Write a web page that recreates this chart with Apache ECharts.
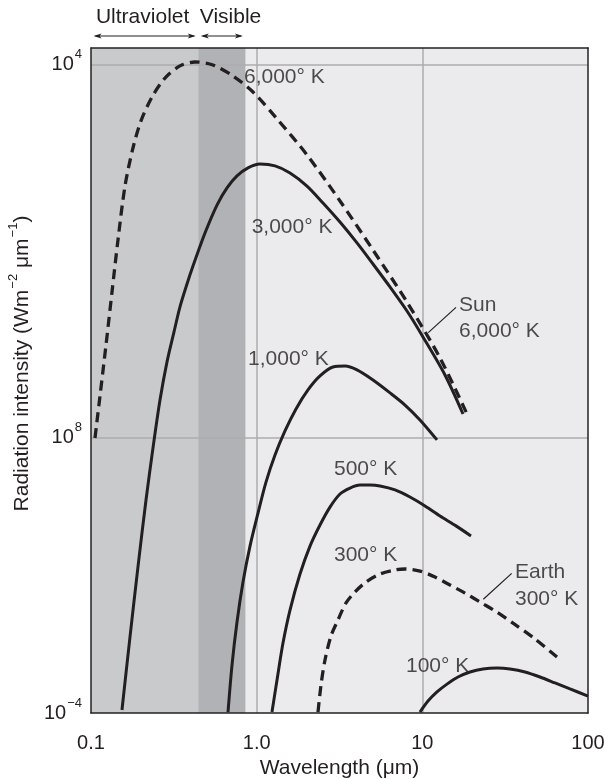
<!DOCTYPE html>
<html>
<head>
<meta charset="utf-8">
<script src="https://cdn.jsdelivr.net/npm/echarts@6/dist/echarts.min.js"></script>
<style>
  html, body { margin: 0; padding: 0; background: #ffffff; }
  #chart { width: 604px; height: 779px; }
</style>
</head>
<body>
<div id="chart"></div>
<script>
// Blackbody emission curves: wavelength (µm) against log10 of radiation intensity.
const wavelengthTicks = [0.1, 1, 10, 100];
const wavelengthTickLabels = ['0.1', '1.0', '10', '100'];

// Intensity axis runs in decades (exponent of ten).
const intensityTickValues = [-4, 8, 24.27];
const intensityTickLabels = [['10', '−4'], ['10', '8'], ['10', '4']];

// Spectral bands (µm)
const ultravioletBand = [0.1, 0.444];
const visibleBand = [0.444, 0.855];

// Curves: [wavelength µm, log10 intensity]
const curve6000K = [[0.1057, 7.99], [0.1133, 9.82], [0.1232, 12.05], [0.1339, 14.36], [0.1455, 16.63],
  [0.1604, 18.98], [0.1792, 20.64], [0.2003, 21.82], [0.2335, 22.86], [0.2797, 23.69], [0.3444, 24.22],
  [0.4243, 24.39], [0.5449, 24.26], [0.7197, 23.78], [0.9503, 23.08], [1.3268, 21.91], [2.0125, 20.34],
  [3.184, 18.33], [5.037, 16.19], [8.08, 13.92], [12.79, 11.48], [18.60, 9.04]];
const curve3000K = [[0.1538, -3.87], [0.1719, -0.69], [0.1921, 2.37], [0.2148, 5.29], [0.2367, 7.56],
  [0.2609, 9.65], [0.2876, 11.31], [0.3170, 12.62], [0.3444, 13.71], [0.3797, 14.71], [0.4127, 15.49],
  [0.4876, 16.93], [0.5761, 18.15], [0.6622, 18.90], [0.7609, 19.42], [0.8864, 19.77], [1.0474, 19.94],
  [1.2904, 19.86], [1.5895, 19.55], [2.0125, 18.98], [2.5141, 18.24], [3.184, 17.41], [4.033, 16.50],
  [5.037, 15.58], [6.379, 14.58], [8.08, 13.53], [10.09, 12.40], [13.70, 10.74], [17.60, 9.04]];
const curve1000K = [[0.6715, -3.96], [0.7098, -1.91], [0.7609, -0.03], [0.8270, 1.71], [0.9115, 3.28],
  [1.0187, 4.72], [1.1384, 6.07], [1.2904, 7.25], [1.4825, 8.30], [1.7275, 9.26], [2.0407, 10.09],
  [2.4116, 10.70], [2.8891, 11.09], [3.4145, 11.13], [4.033, 10.96], [5.037, 10.52], [6.379, 9.96],
  [7.859, 9.43], [9.680, 8.78], [12.26, 7.91]];
const curve500K = [[1.2374, -3.96], [1.3268, -2.56], [1.4418, -0.95], [1.5895, 0.49], [1.8263, 2.06],
  [2.0985, 3.28], [2.4116, 4.20], [2.7711, 4.98], [3.184, 5.55], [3.6593, 5.81], [4.2049, 5.94],
  [4.8316, 5.94], [5.5526, 5.90], [6.8395, 5.73], [8.4243, 5.42], [10.376, 5.03], [12.79, 4.59],
  [15.968, 4.16], [19.666, 3.72]];
const curve300K = [[2.3455, -3.96], [2.4454, -2.78], [2.5851, -1.69], [2.8099, -0.64], [3.0968, 0.06],
  [3.4624, 0.80], [3.9225, 1.28], [4.5703, 1.71], [5.5526, 2.06], [6.8395, 2.24], [7.859, 2.28],
  [9.680, 2.19], [11.924, 1.93], [14.689, 1.58], [18.094, 1.23], [22.289, 0.84], [28.224, 0.40],
  [35.266, -0.08], [47.863, -0.77], [64.99, -1.56]];
const curve100K = [[9.680, -3.96], [10.818, -3.48], [12.26, -3.08], [14.086, -2.74], [16.418, -2.43],
  [19.396, -2.21], [23.236, -2.08], [28.224, -2.04], [33.82, -2.08], [41.66, -2.21], [51.31, -2.43],
  [63.21, -2.69], [77.86, -2.95], [100, -3.26]];

// Curve labels, anchored at [wavelength, log10 intensity] (left edge, vertical middle)
const curveLabels = [
  { text: '6,000° K', at: [0.8386, 23.74] },
  { text: '3,000° K', at: [0.933, 17.17] },
  { text: '1,000° K', at: [0.8867, 11.44] },
  { text: '500° K', at: [2.93, 6.64] },
  { text: '300° K', at: [2.93, 2.86] },
  { text: '100° K', at: [7.967, -1.94] },
  { text: 'Sun', at: [16.65, 13.79] },
  { text: '6,000° K', at: [16.65, 12.63] },
  { text: 'Earth', at: [36.25, 2.15] },
  { text: '300° K', at: [36.25, 0.95] }
];
const leaderLines = [
  [[10.86, 12.59], [15.97, 13.69]],
  [[23.34, 0.96], [34.63, 2.09]]
];

const INK = '#231f20';
const FONT = '"Liberation Sans", Arial, Helvetica, sans-serif';

const chart = echarts.init(document.getElementById('chart'), null, { renderer: 'canvas' });

function curveSeries(name, data, dashed) {
  return {
    name: name,
    type: 'line',
    data: data,
    smooth: 0.3,
    showSymbol: false,
    symbol: 'none',
    z: 3,
    clip: true,
    lineStyle: {
      color: INK,
      width: dashed ? 3.3 : 3,
      type: dashed ? [10, 6] : 'solid',
      cap: 'butt'
    }
  };
}

// tick labels: base number with raised exponent
const tickRich = {
  b: { fontSize: 20, fontFamily: FONT, color: INK },
  s: { fontSize: 13, fontFamily: FONT, color: INK, padding: [0, 0, 20, 1] }
};
// axis title with raised exponents
const titleRich = {
  b: { fontSize: 21, fontFamily: FONT, color: INK },
  s: { fontSize: 13, fontFamily: FONT, color: INK, padding: [0, 0, 18, 1] }
};

const frameLine = { show: true, onZero: false, lineStyle: { color: '#222222', width: 1.5 } };

const option = {
  animation: false,
  backgroundColor: '#ffffff',
  textStyle: { fontFamily: FONT },
  grid: {
    left: 91, top: 48, width: 497, height: 665,
    containLabel: false,
    outerBoundsMode: 'none',
    show: true, backgroundColor: '#ebebed', borderWidth: 0
  },
  xAxis: [{
    type: 'log', logBase: 10, min: 0.1, max: 100, position: 'bottom', z: 10,
    axisLine: frameLine,
    axisTick: { show: false },
    splitLine: { show: false },
    axisLabel: {
      show: true, margin: 20, fontSize: 20, color: INK, fontFamily: FONT,
      showMinLabel: true, showMaxLabel: true, hideOverlap: false,
      formatter: function (v) {
        for (let i = 0; i < wavelengthTicks.length; i++) {
          if (Math.abs(Math.log10(v) - Math.log10(wavelengthTicks[i])) < 1e-6) return wavelengthTickLabels[i];
        }
        return '';
      }
    },
    name: 'Wavelength (μm)',
    nameLocation: 'middle',
    nameGap: 41,
    nameTextStyle: { fontSize: 21, color: INK, fontFamily: FONT }
  }, {
    type: 'log', logBase: 10, min: 0.1, max: 100, position: 'top', z: 10,
    axisLine: frameLine, axisTick: { show: false }, axisLabel: { show: false }, splitLine: { show: false }
  }],
  yAxis: [{
    type: 'value', min: -4, max: 25, position: 'left', z: 10,
    axisLine: frameLine,
    axisTick: { show: false },
    splitLine: { show: false },
    axisLabel: {
      show: true, margin: 9, color: INK,
      customValues: intensityTickValues,
      formatter: function (v) {
        for (let i = 0; i < intensityTickValues.length; i++) {
          if (Math.abs(v - intensityTickValues[i]) < 1e-3) {
            return '{b|' + intensityTickLabels[i][0] + '}{s|' + intensityTickLabels[i][1] + '}';
          }
        }
        return '';
      },
      rich: tickRich
    },
    name: '{b|Radiation intensity (Wm}{s|−2}{b| μm}{s|−1}{b|)}',
    nameLocation: 'middle',
    nameGap: 52,
    nameTextStyle: { rich: titleRich, padding: [0, 0, 0, 34] }
  }, {
    type: 'value', min: -4, max: 25, position: 'right', z: 10,
    axisLine: frameLine, axisTick: { show: false }, axisLabel: { show: false }, splitLine: { show: false }
  }],
  series: [
    {
      // shaded spectral bands and reference grid lines
      name: 'bands',
      type: 'line',
      data: [],
      z: 1,
      silent: true,
      markArea: {
        silent: true,
        z: 0,
        label: { show: false },
        data: [
          [{ xAxis: ultravioletBand[0], itemStyle: { color: '#c9cacc' } }, { xAxis: ultravioletBand[1] }],
          [{ xAxis: visibleBand[0], itemStyle: { color: '#b1b2b5' } }, { xAxis: visibleBand[1] }]
        ]
      },
      markLine: {
        silent: true,
        z: 1,
        symbol: ['none', 'none'],
        label: { show: false },
        lineStyle: { color: '#acacae', width: 1.5, type: 'solid' },
        data: [
          { yAxis: intensityTickValues[1] },
          { yAxis: intensityTickValues[2] },
          { xAxis: wavelengthTicks[1] },
          { xAxis: wavelengthTicks[2] }
        ]
      }
    },
    curveSeries('6,000° K', curve6000K, true),
    curveSeries('3,000° K', curve3000K, false),
    curveSeries('1,000° K', curve1000K, false),
    curveSeries('500° K', curve500K, false),
    curveSeries('300° K', curve300K, true),
    curveSeries('100° K', curve100K, false),
    {
      // curve captions and leader lines
      name: 'labels',
      type: 'scatter',
      z: 6,
      silent: true,
      symbolSize: 0,
      data: curveLabels.map(function (d) { return { value: d.at, name: d.text }; }),
      label: {
        show: true,
        position: 'right',
        distance: 0,
        formatter: '{b}',
        fontSize: 21,
        color: INK,
        fontFamily: FONT
      },
      markLine: {
        silent: true,
        symbol: ['none', 'none'],
        label: { show: false },
        lineStyle: { color: INK, width: 1.2, type: 'solid' },
        data: leaderLines.map(function (seg) {
          return [{ coord: seg[0] }, { coord: seg[1] }];
        })
      }
    }
  ]
};

chart.setOption(option);

// Band captions with double-headed arrows above the plot
function bandArrow(band, text, align) {
  const x0 = chart.convertToPixel({ xAxisIndex: 0 }, band[0]) + 2.5;
  const x1 = chart.convertToPixel({ xAxisIndex: 0 }, band[1]) - 2.5;
  const y = 36;
  const head = 8, half = 2.6;
  return [
    { type: 'line', shape: { x1: x0 + 2, y1: y, x2: x1 - 2, y2: y }, style: { stroke: INK, lineWidth: 1 } },
    { type: 'polygon', shape: { points: [[x0, y], [x0 + head, y - half], [x0 + head - 2, y], [x0 + head, y + half]] }, style: { fill: INK } },
    { type: 'polygon', shape: { points: [[x1, y], [x1 - head, y - half], [x1 - head + 2, y], [x1 - head, y + half]] }, style: { fill: INK } },
    {
      type: 'text',
      x: align === 'center' ? (x0 + x1) / 2 - 2 : x0 - 1,
      y: 17,
      style: { text: text, fontSize: 21, fontFamily: FONT, fill: INK, align: align, verticalAlign: 'middle' }
    }
  ];
}

chart.setOption({
  graphic: [].concat(
    bandArrow(ultravioletBand, 'Ultraviolet', 'center'),
    bandArrow(visibleBand, 'Visible', 'left')
  )
});
</script>
</body>
</html>
